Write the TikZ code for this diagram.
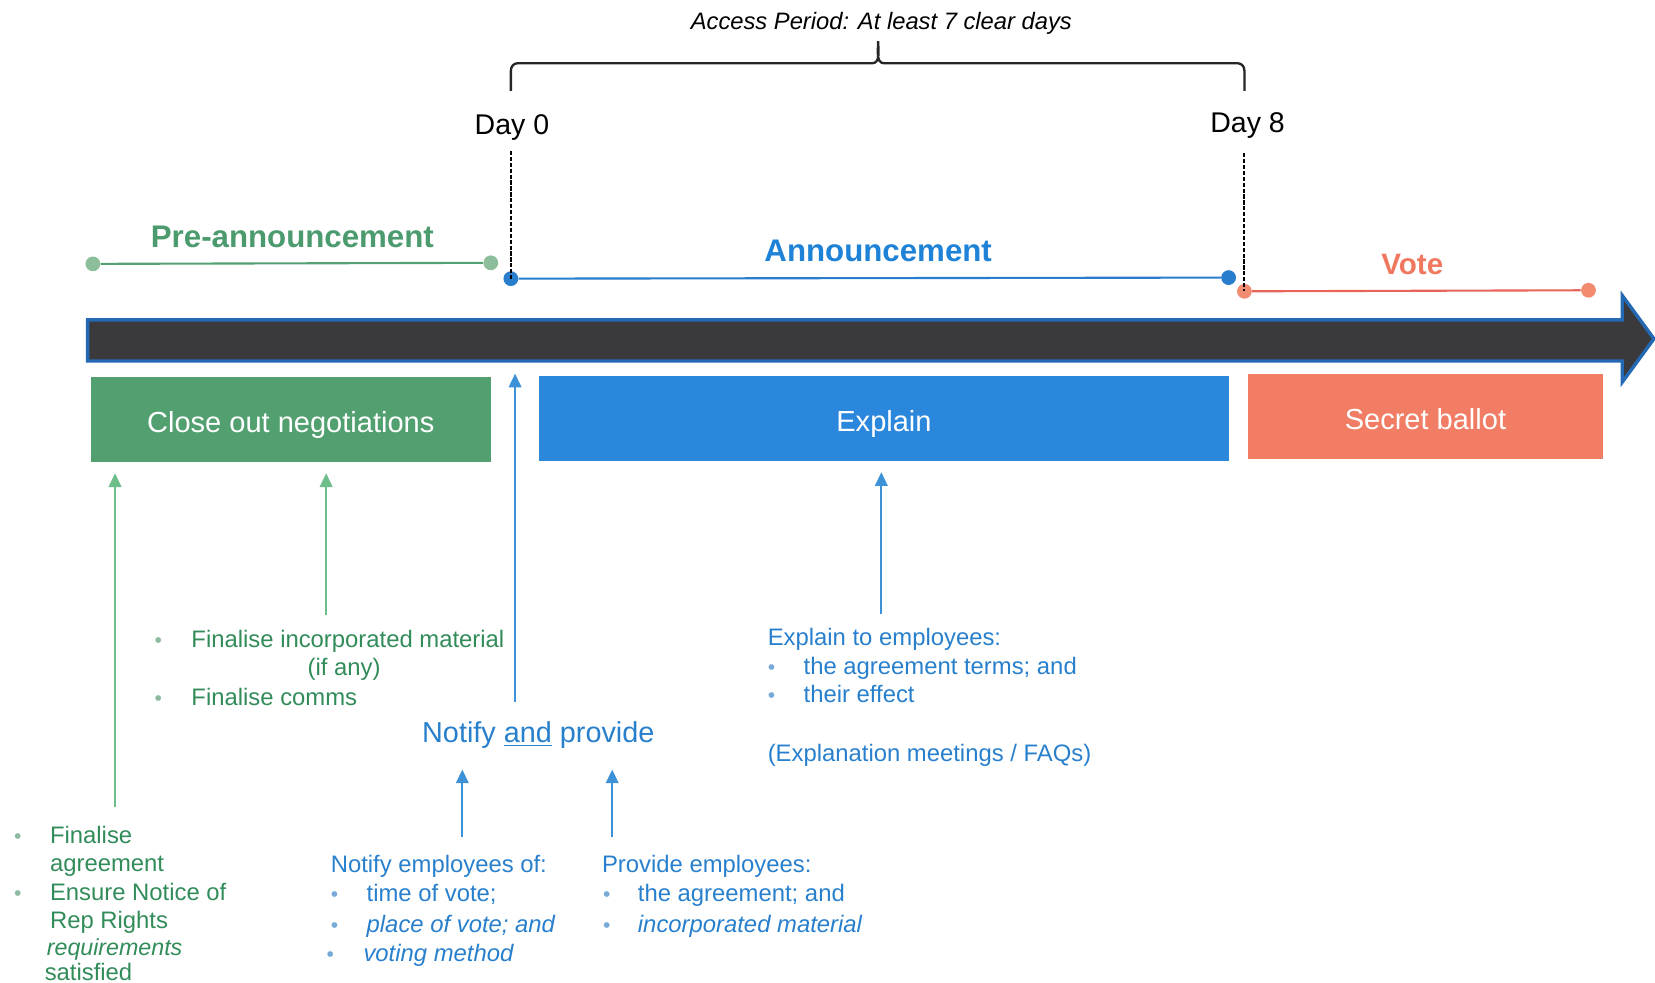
\documentclass[tikz,border=0pt]{standalone}
\usepackage{fontspec}
\setmainfont{Liberation Sans}
\usetikzlibrary{arrows.meta}
\definecolor{gtxt}{RGB}{50,140,90}
\definecolor{gtitle}{RGB}{75,155,110}
\definecolor{gbox}{RGB}{82,160,112}
\definecolor{gline}{RGB}{85,160,115}
\definecolor{gdot}{RGB}{140,190,155}
\definecolor{garr}{RGB}{110,190,140}
\definecolor{btxt}{RGB}{40,128,205}
\definecolor{btitle}{RGB}{30,130,215}
\definecolor{bbox}{RGB}{42,135,220}
\definecolor{bline}{RGB}{40,125,205}
\definecolor{barr}{RGB}{60,145,215}
\definecolor{otitle}{RGB}{240,120,95}
\definecolor{obox}{RGB}{240,125,100}
\definecolor{oline}{RGB}{232,100,90}
\definecolor{odot}{RGB}{242,140,112}
\definecolor{darkbar}{RGB}{58,58,60}
\definecolor{barout}{RGB}{35,105,180}
\definecolor{bulg}{RGB}{140,185,160}
\definecolor{bulb}{RGB}{120,170,215}
\begin{document}
\begin{tikzpicture}[x=0.5pt,y=-0.5pt,
  lst/.style={inner sep=0pt, anchor=base west, font=\fontsize{11.3}{13}\selectfont},
  glst/.style={lst, text=gtxt},
  blst/.style={lst, text=btxt},
  gbul/.style={inner sep=0pt, anchor=base, font=\fontsize{10}{12}\selectfont, text=bulg},
  bbul/.style={inner sep=0pt, anchor=base, font=\fontsize{10}{12}\selectfont, text=bulb},
  phase/.style={inner sep=0pt, font=\fontsize{14.8}{17}\selectfont\bfseries},
  boxtxt/.style={inner sep=0pt, text=white, font=\fontsize{13.75}{16}\selectfont},
  dayt/.style={inner sep=0pt, anchor=base, font=\fontsize{13.5}{16}\selectfont},
  garrow/.style={draw=garr, line width=0.8pt, -{Triangle[width=6pt,length=6.5pt]}},
  barrow/.style={draw=barr, line width=0.8pt, -{Triangle[width=6pt,length=6.5pt]}},
  dashv/.style={draw=black, line width=1pt, dash pattern=on 2pt off 0.8pt},
  pdot/.style={circle, inner sep=0pt, minimum size=7pt}
]
\useasboundingbox (0,0) rectangle (1568,931);

% access period
\node[inner sep=0pt, font=\fontsize{11.25}{13}\selectfont\itshape] (acc) at (835,22) {Access Period: At least 7 clear days};
\coordinate (brL) at (484,86);
\coordinate (brR) at (1179,86);
\coordinate (brT) at (832,39);
\draw[line width=1.1pt, black!85] (brL) -- (484,67) to[out=90,in=180] (490,60) -- (826,60)
  to[out=0,in=-90] (brT) to[out=-90,in=180] (838,60) -- (1173,60) to[out=0,in=90] (1179,67) -- (brR);

% days
\node[dayt] (d0) at (485,127) {Day 0};
\node[dayt] (d8) at (1182,126) {Day 8};

% phase lines
\node[pdot, fill=gdot] (g1) at (88,250) {};
\node[pdot, fill=gdot] (g2) at (465,249) {};
\draw[gline, line width=1pt] (g1) -- (g2);
\node[phase, text=gtitle] (pre) at (277,224) {Pre-announcement};

\node[pdot, fill=bline] (a1) at (484,264) {};
\node[pdot, fill=bline] (a2) at (1164,263) {};
\draw[bline, line width=1pt] (a1) -- (a2);
\node[phase, text=btitle] (ann) at (832,238) {Announcement};

\node[pdot, fill=odot] (v1) at (1179,276) {};
\node[pdot, fill=odot] (v2) at (1505,275) {};
\draw[oline, line width=1pt] (v1) -- (v2);
\node[phase, text=otitle, font=\fontsize{14}{17}\selectfont\bfseries] (vote) at (1338,251) {Vote};

% dashed day lines
\coordinate (dl0) at (484,143);
\coordinate (dl8) at (1179,145);
\draw[dashv] (dl0) -- (a1.center);
\draw[dashv] (dl8) -- (v1.center);

% big arrow
\draw[draw=barout, line width=1.6pt, fill=darkbar, line join=miter]
  (83,303) -- (1537,303) -- (1537,280) -- (1567,321) -- (1537,362) -- (1537,342) -- (83,342) -- cycle;

% boxes
\node[fill=gbox, minimum width=189.5pt, minimum height=40.5pt, inner sep=0pt] (cbox) at (275.5,397.5) {};
\node[boxtxt, anchor=base] at ([yshift=-6pt]cbox.center) {Close out negotiations};
\node[fill=bbox, minimum width=326.5pt, minimum height=40.5pt, inner sep=0pt] (ebox) at (837.5,396.5) {};
\node[boxtxt, anchor=base] at ([yshift=-6pt]ebox.center) {Explain};
\node[fill=obox, minimum width=168.5pt, minimum height=40.5pt, inner sep=0pt] (sbox) at (1350.5,394.5) {};
\node[boxtxt, anchor=base] at ([yshift=-6pt]sbox.center) {Secret ballot};

% green list (middle)
\node[gbul] (gb1) at (150,613) {•};
\node[glst] (gt1) at (181,613) {Finalise incorporated material};
\node[inner sep=0pt, anchor=base, text=gtxt, font=\fontsize{11.3}{13}\selectfont] (gt2) at (326,640) {(if any)};
\node[gbul] (gb2) at (150,668) {•};
\node[glst] (gt3) at (181,668) {Finalise comms};

% green list (left)
\node[gbul] (lb1) at (17,799) {•};
\node[glst] (lt1) at (47,799) {Finalise};
\node[glst] (lt2) at (47,826) {agreement};
\node[gbul] (lb2) at (17,853) {•};
\node[glst] (lt3) at (47,853) {Ensure Notice of};
\node[glst] (lt4) at (47,880) {Rep Rights};
\node[glst, font=\fontsize{11}{13}\selectfont\itshape] (lt5) at (44,905) {requirements};
\node[glst] (lt6) at (42,929) {satisfied};

% notify and provide
\node[inner sep=0pt, anchor=base, text=btxt, font=\fontsize{13.65}{16}\selectfont] (nap) at (510,703) {Notify \underline{and} provide};

% notify list
\node[blst] (nt0) at (313,827) {Notify employees of:};
\node[bbul] (nb1) at (317,854) {•};
\node[blst] (nt1) at (347,854) {time of vote;};
\node[bbul] (nb2) at (317,883) {•};
\node[blst, font=\fontsize{11.3}{13}\selectfont\itshape] (nt2) at (347,883) {place of vote; and};
\node[bbul] (nb3) at (313,911) {•};
\node[blst, font=\fontsize{11.3}{13}\selectfont\itshape] (nt3) at (344,911) {voting method};

% provide list
\node[blst] (pt0) at (570,827) {Provide employees:};
\node[bbul] (pb1) at (575,854) {•};
\node[blst] (pt1) at (604,854) {the agreement; and};
\node[bbul] (pb2) at (575,883) {•};
\node[blst, font=\fontsize{11.3}{13}\selectfont\itshape] (pt2) at (604,883) {incorporated material};

% explain list
\node[blst] (et0) at (727,612) {Explain to employees:};
\node[bbul] (eb1) at (731,639) {•};
\node[blst] (et1) at (761,639) {the agreement terms; and};
\node[bbul] (eb2) at (731,666) {•};
\node[blst] (et2) at (761,666) {their effect};
\node[blst] (et3) at (727,721) {(Explanation meetings / FAQs)};

% connectors
\coordinate (s1) at (109,765);
\coordinate (s2) at (309,583);
\coordinate (s3) at (488,665);
\coordinate (s4) at (835,582);
\coordinate (s5) at (438,793);
\coordinate (s6) at (580,793);
\coordinate (t3) at (488,354);
\draw[garrow] (s1) -- ([yshift=-5]s1 |- cbox.south);
\draw[garrow] (s2) -- ([yshift=-5]s2 |- cbox.south);
\draw[barrow] (s3) -- (t3);
\draw[barrow] (s4) -- ([yshift=-5]s4 |- ebox.south);
\draw[barrow] (s5) -- ([yshift=-10]s5 |- nap.south);
\draw[barrow] (s6) -- ([yshift=-10]s6 |- nap.south);
\end{tikzpicture}
\end{document}
